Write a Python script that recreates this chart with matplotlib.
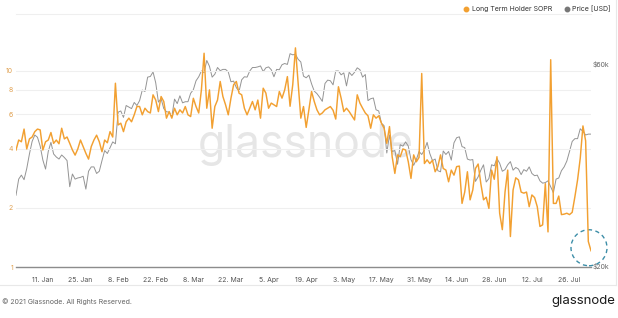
import numpy as np
import pandas as pd
import matplotlib
matplotlib.use("Agg")
import matplotlib.pyplot as plt
from matplotlib.patches import Circle
from matplotlib.lines import Line2D
from matplotlib.ticker import NullLocator
from matplotlib.transforms import IdentityTransform

plt.rcParams['font.family'] = ['Inter', 'DejaVu Sans']

dates = pd.date_range('2021-01-01', '2021-08-03', freq='D')

# Long Term Holder SOPR, daily
lth_sopr = [
    3.95, 4.44, 4.35, 5.05, 4.0, 4.5, 4.6, 4.9, 5.05, 5.0,
    3.95, 4.35, 4.44, 4.85, 4.27, 4.44, 4.25, 5.1, 4.5, 4.6,
    4.27, 3.95, 3.72, 4.0, 4.44, 4.11, 3.80, 3.55, 4.11, 4.44,
    4.7, 4.35, 3.87, 4.44, 4.3,
    4.9, 4.6, 8.65, 5.3, 5.41, 4.9, 5.5, 5.74, 5.5, 5.97,
    6.58, 6.58, 5.97, 6.45, 6.2, 6.1, 7.55, 7.1, 6.2, 7.4,
    6.98, 5.74, 6.2, 5.74, 6.45, 5.97, 6.33, 6.1, 6.58, 5.97,
    5.85, 7.25, 6.58, 6.1, 8.0, 12.3,
    6.45, 8.0, 5.1, 6.58, 7.1, 8.83, 7.4, 6.71, 5.97, 7.26,
    8.5, 8.83, 7.7, 7.55, 6.45, 5.97, 6.45, 6.98, 6.33, 7.1,
    5.74, 8.16, 7.7, 6.45, 6.85, 6.71, 6.58, 7.85, 7.26, 8.0,
    9.35, 6.6, 8.5, 13.1, 8.6,
    5.74, 6.58, 5.15, 6.33, 7.85, 6.98, 6.33, 5.97, 6.1, 6.33,
    6.45, 6.58, 6.3, 5.68, 8.3, 7.26, 6.2, 6.45, 6.2, 5.9,
    5.62, 7.55, 6.85, 6.45, 6.1, 5.9, 5.1, 5.97, 5.74, 5.9,
    5.41, 5.1, 4.27, 5.2, 3.65, 3.0,
    3.73, 3.65, 4.0, 3.95, 3.44, 2.83, 3.73, 3.44, 3.62, 9.7,
    3.37, 3.52, 3.37, 3.5, 3.06, 3.25, 3.73, 3.18, 3.12, 2.72,
    3.12, 2.94, 3.25, 3.27, 2.11, 2.41, 3.06, 2.2, 2.47, 3.18,
    3.35, 2.66, 2.2, 2.27, 1.99, 3.12,
    2.8, 3.65, 1.88, 1.55, 2.41, 3.12, 1.43, 2.47, 2.85, 2.78,
    2.41, 2.38, 2.41, 2.03, 2.33, 2.26, 2.03, 1.61, 1.64, 2.66,
    1.51, 11.4, 2.11, 2.11, 2.3, 1.85, 1.86, 1.88, 1.85, 1.9,
    2.28, 2.78, 3.59, 5.24, 4.4, 1.35, 1.21,
]

# BTC price in USD thousands
price_k = [
    # Jan
    29.4, 32.1, 32.8, 32.0, 34.0, 36.8, 39.4, 40.8, 40.3, 38.4,
    35.6, 33.9, 37.3, 39.2, 36.8, 36.2, 35.8, 36.6, 36.1, 35.5,
    30.8, 33.0, 32.1, 32.3, 32.4, 32.6, 30.4, 33.5, 34.3, 34.3, 33.1,
    # Feb
    33.5, 35.5, 37.5, 36.9, 38.1, 39.3, 38.9, 46.2, 46.5, 44.9,
    47.9, 47.5, 47.1, 48.7, 47.9, 49.2, 52.1, 51.7, 55.9, 56.1,
    57.5, 54.2, 48.8, 49.7, 47.1, 46.3, 46.2, 45.1,
    # Mar
    49.6, 48.4, 50.5, 48.6, 48.9, 48.9, 51.2, 52.2, 54.8, 56.0,
    57.8, 57.3, 61.2, 59.3, 55.9, 56.8, 58.9, 57.9, 58.3, 58.3,
    57.5, 54.5, 54.7, 52.8, 51.7, 55.1, 56.0, 55.9, 57.8, 58.9, 58.9,
    # Apr
    59.1, 59.4, 57.6, 58.8, 59.1, 58.2, 56.0, 58.3, 58.2, 59.8,
    60.2, 59.9, 63.5, 63.1, 63.3, 61.6, 60.7, 56.2, 55.7, 56.5,
    53.9, 51.8, 51.1, 50.1, 49.0, 54.0, 55.0, 54.8, 53.6, 57.8,
    # May
    57.8, 56.6, 57.2, 53.3, 57.4, 56.4, 57.4, 58.8, 58.2, 55.9,
    56.7, 49.2, 49.7, 49.9, 46.8, 46.5, 43.5, 42.9, 37.0, 40.8,
    37.3, 37.5, 34.8, 38.7, 38.4, 39.3, 38.4, 35.7, 34.6, 35.7, 37.3,
    # Jun
    36.7, 37.6, 39.2, 36.9, 35.5, 35.8, 33.6, 33.4, 37.4, 36.7,
    37.3, 35.6, 39.1, 40.2, 40.4, 38.3, 38.1, 35.8, 35.6, 35.7,
    31.7, 32.5, 33.7, 34.7, 31.6, 32.2, 34.7, 34.5, 35.9, 35.0,
    # Jul
    33.5, 33.8, 34.7, 35.3, 33.7, 34.2, 33.9, 32.9, 33.8, 33.5,
    34.3, 33.1, 32.7, 32.8, 31.8, 31.4, 31.5, 31.8, 30.8, 29.8,
    32.1, 32.3, 33.6, 34.3, 35.4, 37.3, 39.4, 40.0, 40.0, 42.2, 41.6,
    # Aug
    40.8, 41.0, 41.0,
]
price = np.array(price_k) * 1000

tick_dates = pd.date_range('2021-01-11', '2021-07-26', freq='14D')
tick_labels = [f"{d.day}. {d.strftime('%b')}" for d in tick_dates]

sopr_ticks = [1, 2, 4, 6, 8, 10]
price_ticks = [20000, 60000]
price_labels = ['$20k', '$60k']

W, H = 618, 318
fig = plt.figure(figsize=(W / 100, H / 100), dpi=100)
fig.patch.set_facecolor('white')

ax = fig.add_axes([16 / W, (H - 267) / H, (591 - 16) / W, (267 - 14) / H])
ax2 = ax.twinx()
ax.set_zorder(ax2.get_zorder() + 1)
ax.patch.set_visible(False)
ax2.patch.set_visible(False)

orange = '#f2a031'
ax2.plot(dates, price, color='#949494', lw=0.7)
ax.plot(dates, lth_sopr, color=orange, lw=1.05)

ax.set_yscale('log')
ax.set_ylim(1, 19.5)
ax.set_yticks(sopr_ticks)
ax.set_yticklabels([str(t) for t in sopr_ticks])
ax.yaxis.set_minor_locator(NullLocator())
ax.grid(axis='y', color='#efefef', lw=0.8)
ax.set_axisbelow(True)

ax2.set_yscale('log')
ax2.set_ylim(19900, 78800)
ax2.set_yticks(price_ticks)
ax2.set_yticklabels(price_labels)
ax2.yaxis.set_minor_locator(NullLocator())

ax.set_xlim(dates[0], dates[-1])
ax.set_xticks(tick_dates)
ax.set_xticklabels(tick_labels)

for a in (ax, ax2):
    for s in ('left', 'right', 'top', 'bottom'):
        a.spines[s].set_visible(False)
ax.spines['top'].set_visible(True)
ax.spines['top'].set_color('#efefef')
ax.spines['top'].set_linewidth(0.8)
ax.spines['bottom'].set_visible(True)
ax.spines['bottom'].set_color('#8c8c8c')
ax.spines['bottom'].set_linewidth(1.0)

ax.tick_params(axis='x', length=0, pad=7, labelsize=5, labelcolor='#555555')
ax.tick_params(axis='y', length=0, pad=2, labelsize=5, labelcolor='#e0a050')
ax2.tick_params(axis='y', length=0, pad=1, labelsize=5, labelcolor='#666666')

# watermark
fig.text(306 / W, 1 - 145 / H, 'glassnode', fontsize=32, color='#e6e6e6',
         ha='center', va='center', zorder=-1)

# legend
fig.add_artist(Line2D([466 / W], [1 - 9 / H], marker='o', ms=3.2, color=orange, lw=0,
                      transform=fig.transFigure))
fig.text(472 / W, 1 - 9 / H, 'Long Term Holder SOPR', fontsize=5, color='#333333', va='center')
fig.add_artist(Line2D([567 / W], [1 - 9 / H], marker='o', ms=3.2, color='#777777', lw=0,
                      transform=fig.transFigure))
fig.text(572 / W, 1 - 9 / H, 'Price [USD]', fontsize=5, color='#333333', va='center')

# footer
fig.text(2 / W, 1 - 302 / H, '\u00a9 2021 Glassnode. All Rights Reserved.', fontsize=5,
         color='#666666', va='center')
fig.text(615 / W, 1 - 301 / H, 'glassnode', fontsize=9.5, color='#1a1a1a',
         va='center', ha='right')

# card border
fig.add_artist(Line2D([0, 616 / W], [1 - 285 / H] * 2, color='#e8e8e8', lw=0.8,
                      transform=fig.transFigure))
fig.add_artist(Line2D([616 / W] * 2, [1, 1 - 285 / H], color='#e8e8e8', lw=0.8,
                      transform=fig.transFigure))

# dashed highlight round the last reading
px, py = ax.transData.transform((matplotlib.dates.date2num(dates[-1]), lth_sopr[-1]))
fig.add_artist(Circle((px - 2, py + 3), 18, fill=False, ls=(0, (3, 2.5)), lw=1,
                      ec='#3d8ea8', transform=IdentityTransform()))

fig.savefig('out.png', dpi=100)
